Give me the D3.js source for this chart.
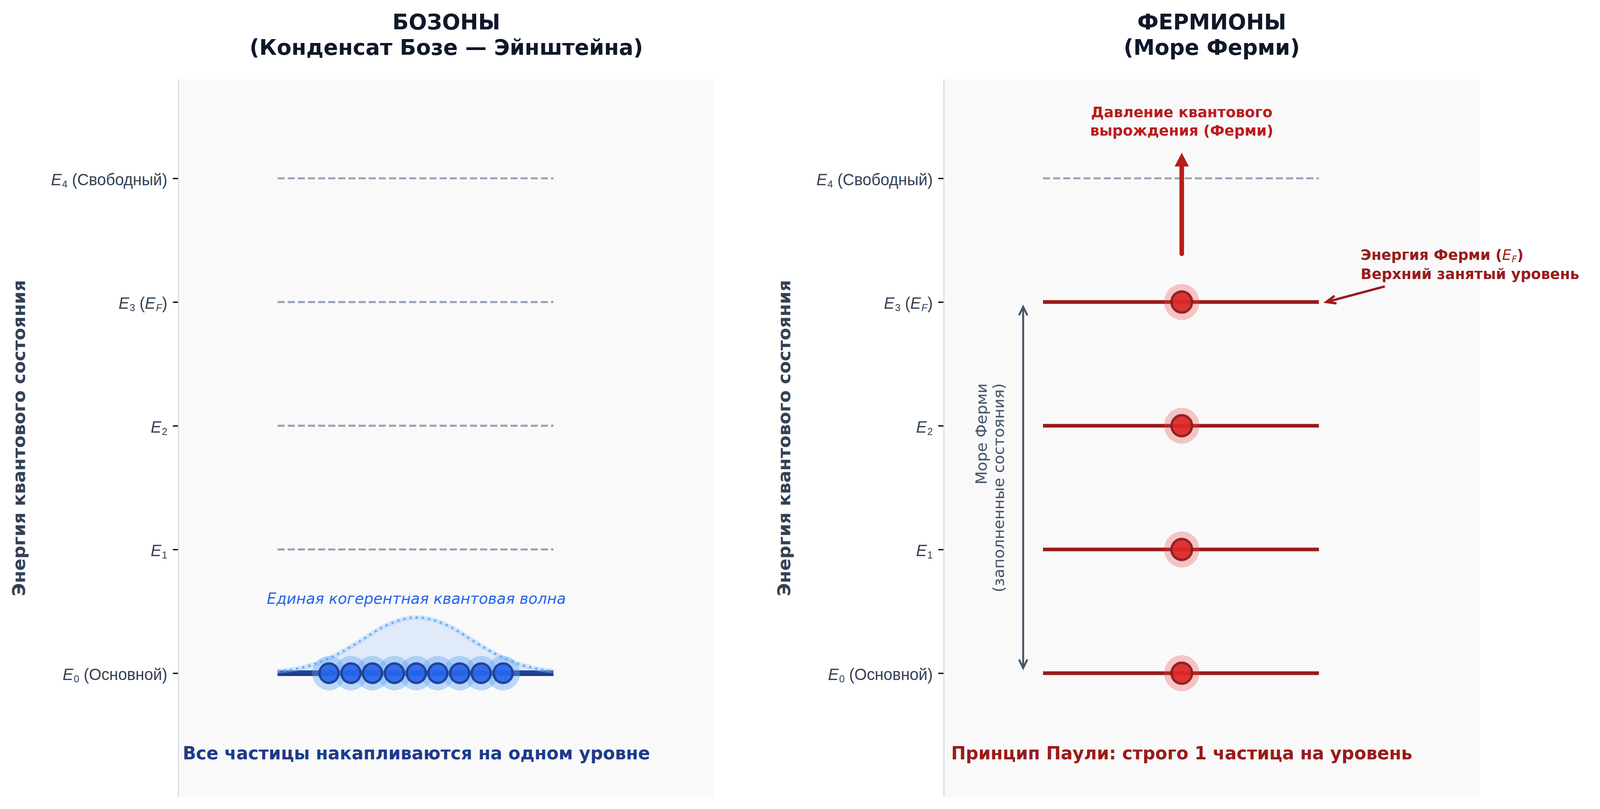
<!DOCTYPE html>
<html>
<head>
<meta charset="utf-8">
<script src="https://cdn.jsdelivr.net/npm/d3@7"></script>
<style>
	html, body { margin: 0; padding: 0; overflow: hidden; background: #ffffff; }
	svg { display: block; font-family: "DejaVu Sans", sans-serif; }
</style>
</head>
<body>
<svg id="chart"></svg>
<script>
// energy levels shared by both panels
const levels = [0, 1, 2, 3, 4];
const levelLabels = ["$E_0$ (Основной)", "$E_1$", "$E_2$", "$E_3$ ($E_F$)", "$E_4$ (Свободный)"];
const levelSpan = [1.85, 7.0];

// bosons: all in the ground state
const bosonEmptyLevels = [1, 2, 3, 4];
const bosonGroundLevel = 0;
const bosonX = [2.81, 3.22, 3.62, 4.03, 4.44, 4.84, 5.25, 5.65, 6.06];
const waveX = [1.85, 2.2, 2.6, 3.0, 3.4, 3.8, 4.2, 4.44, 4.7, 5.1, 5.5, 5.9, 6.3, 6.7, 7.0];
const waveY = [0.016, 0.035, 0.082, 0.160, 0.262, 0.370, 0.437, 0.450, 0.437, 0.370, 0.262, 0.160, 0.082, 0.035, 0.016];

// fermions: one per level
const fermionFilledLevels = [0, 1, 2, 3];
const fermionEmptyLevels = [4];
const fermionX = 4.44;

const panelTitles = [["БОЗОНЫ", "(Конденсат Бозе — Эйнштейна)"], ["ФЕРМИОНЫ", "(Море Ферми)"]];
const yAxisTitle = "Энергия квантового состояния";
const waveLabel = "Единая когерентная квантовая волна";
const footers = ["Все частицы накапливаются на одном уровне", "Принцип Паули: строго 1 частица на уровень"];
const seaLabel = ["Море Ферми", "(заполненные состояния)"];
const pressureLabel = ["Давление квантового", "вырождения (Ферми)"];
const fermiLabel = ["Энергия Ферми ($E_F$)", "Верхний занятый уровень"];

const W = 4187, H = 2070;
const panelLeft = [467, 2470];
const panelWidth = 1402;
const axTop = 203, axBottom = 2039;

// fit the drawing to whatever viewport we get
const svg = d3.select("#chart")
	.attr("viewBox", `0 0 ${W} ${H}`)
	.attr("preserveAspectRatio", "none")
	.style("width", "100vw")
	.style("height", "100vh");

svg.append("rect").attr("width", W).attr("height", H).attr("fill", "#ffffff");

const yScale = d3.scaleLinear()
	.domain([-1, 4.8])
	.range([axBottom, axTop]);

// tiny mathtext: $E_3$ -> italic E with subscript
function addMath(textSel, str, size, weight) {
	let shift = 0;
	let parts = str.split("$");
	parts.forEach((p, i) => {
		if (!p) return;
		if (i % 2 == 0) {
			textSel.append("tspan")
				.attr("font-weight", weight)
				.attr("dy", -shift)
				.text(p);
			shift = 0;
		} else {
			let m = p.match(/^([A-Za-z])_(\w)$/);
			textSel.append("tspan")
				.attr("font-style", "italic")
				.attr("font-weight", "normal")
				.attr("dy", -shift)
				.text(m[1]);
			let sub = size * 0.15;
			textSel.append("tspan")
				.attr("font-style", /\d/.test(m[2]) ? "normal" : "italic")
				.attr("font-weight", "normal")
				.attr("font-size", size * 0.62)
				.attr("dx", size * 0.03)
				.attr("dy", sub)
				.text(m[2]);
			shift = sub;
		}
	});
}

function openHead(g, tip, tail, len, half, color, width) {
	let dx = tail[0] - tip[0], dy = tail[1] - tip[1];
	let d = Math.hypot(dx, dy);
	let ux = dx / d, uy = dy / d;
	let nx = -uy, ny = ux;
	g.append("path")
		.attr("d", `M${tip[0] + ux * len + nx * half},${tip[1] + uy * len + ny * half}L${tip[0]},${tip[1]}L${tip[0] + ux * len - nx * half},${tip[1] + uy * len - ny * half}`)
		.attr("fill", "none")
		.attr("stroke", color)
		.attr("stroke-width", width)
		.attr("stroke-linejoin", "miter");
}

function drawAxes(idx) {
	let left = panelLeft[idx];
	let xScale = d3.scaleLinear()
		.domain([0, 10])
		.range([left, left + panelWidth]);

	let g = svg.append("g");

	g.append("rect")
		.attr("x", left)
		.attr("y", axTop)
		.attr("width", panelWidth)
		.attr("height", axBottom - axTop)
		.attr("fill", "#f9f9f9");

	let axis = g.append("g")
		.attr("transform", `translate(${left},0)`)
		.call(d3.axisLeft(yScale).tickValues(levels).tickSize(14.6).tickPadding(14.6).tickFormat(""));
	axis.select(".domain").remove();
	axis.selectAll(".tick line").attr("stroke", "#000000").attr("stroke-width", 3.3);
	axis.selectAll(".tick").each(function (d, i) {
		let t = d3.select(this).append("text")
			.attr("x", -29.2)
			.attr("y", 16.8)
			.attr("text-anchor", "end")
			.attr("fill", "#334155")
			.attr("font-size", 41.7);
		addMath(t, levelLabels[i], 41.7, "normal");
	});

	g.append("line")
		.attr("x1", left).attr("x2", left)
		.attr("y1", axTop).attr("y2", axBottom)
		.attr("stroke", "#cbd5e1")
		.attr("stroke-width", 2.5);

	g.append("text")
		.attr("transform", `translate(${65 + left - 467},${(axTop + axBottom) / 2}) rotate(-90)`)
		.attr("text-anchor", "middle")
		.attr("font-size", 45.8)
		.attr("font-weight", "bold")
		.attr("fill", "#334155")
		.text(yAxisTitle);

	let cx = left + panelWidth / 2;
	g.selectAll(".title")
		.data(panelTitles[idx])
		.join("text")
		.attr("class", "title")
		.attr("x", cx)
		.attr("y", (d, i) => 74.6 + i * 65.5)
		.attr("text-anchor", "middle")
		.attr("font-size", 56)
		.attr("font-weight", "bold")
		.attr("fill", "#0f172a")
		.text(d => d);

	return [g, xScale];
}

function dashedLevels(g, xScale, data) {
	g.selectAll(".empty")
		.data(data)
		.join("line")
		.attr("class", "empty")
		.attr("x1", xScale(levelSpan[0]))
		.attr("x2", xScale(levelSpan[1]))
		.attr("y1", d => yScale(d))
		.attr("y2", d => yScale(d))
		.attr("stroke", "#94a3b8")
		.attr("stroke-width", 5.2)
		.attr("stroke-dasharray", "18.5,8");
}

// ---------- bosons ----------
{
	let [g, xScale] = drawAxes(0);
	dashedLevels(g, xScale, bosonEmptyLevels);

	g.append("line")
		.attr("x1", xScale(levelSpan[0]))
		.attr("x2", xScale(levelSpan[1]))
		.attr("y1", yScale(bosonGroundLevel))
		.attr("y2", yScale(bosonGroundLevel))
		.attr("stroke", "#1e3a8a")
		.attr("stroke-width", 14.5);

	let wave = waveX.map((x, i) => [x, waveY[i]]);
	g.append("path")
		.datum(wave)
		.attr("d", d3.area()
			.x(d => xScale(d[0]))
			.y0(yScale(bosonGroundLevel))
			.y1(d => yScale(bosonGroundLevel + d[1]))
			.curve(d3.curveCatmullRom))
		.attr("fill", "#3b82f6")
		.attr("fill-opacity", 0.12);

	let waveLine = d3.line()
		.x(d => xScale(d[0]))
		.y(d => yScale(bosonGroundLevel + d[1]))
		.curve(d3.curveCatmullRom);

	g.append("path")
		.datum(wave)
		.attr("d", waveLine)
		.attr("fill", "none")
		.attr("stroke", "#93c5fd")
		.attr("stroke-opacity", 0.35)
		.attr("stroke-width", 12);

	g.append("path")
		.datum(wave)
		.attr("d", waveLine)
		.attr("fill", "none")
		.attr("stroke", "#60a5fa")
		.attr("stroke-opacity", 0.85)
		.attr("stroke-width", 6)
		.attr("stroke-dasharray", "6,10.3");

	g.selectAll(".halo")
		.data(bosonX)
		.join("circle")
		.attr("class", "halo")
		.attr("cx", d => xScale(d))
		.attr("cy", yScale(bosonGroundLevel))
		.attr("r", 44)
		.attr("fill", "#60a5fa")
		.attr("fill-opacity", 0.4);

	g.selectAll(".boson")
		.data(bosonX)
		.join("circle")
		.attr("class", "boson")
		.attr("cx", d => xScale(d))
		.attr("cy", yScale(bosonGroundLevel))
		.attr("r", 25)
		.attr("fill", "#2563eb")
		.attr("fill-opacity", 0.9)
		.attr("stroke", "#1e3a8a")
		.attr("stroke-opacity", 0.9)
		.attr("stroke-width", 6);

	g.append("text")
		.attr("x", xScale(4.44))
		.attr("y", yScale(0.6) + 12)
		.attr("text-anchor", "middle")
		.attr("font-size", 39)
		.attr("font-style", "italic")
		.attr("fill", "#2563eb")
		.text(waveLabel);

	g.append("text")
		.attr("x", xScale(4.44))
		.attr("y", yScale(-0.645) + 16.5)
		.attr("text-anchor", "middle")
		.attr("font-size", 45.8)
		.attr("font-weight", "bold")
		.attr("fill", "#1e3a8a")
		.text(footers[0]);
}

// ---------- fermions ----------
{
	let [g, xScale] = drawAxes(1);
	dashedLevels(g, xScale, fermionEmptyLevels);

	g.selectAll(".filled")
		.data(fermionFilledLevels)
		.join("line")
		.attr("class", "filled")
		.attr("x1", xScale(levelSpan[0]))
		.attr("x2", xScale(levelSpan[1]))
		.attr("y1", d => yScale(d))
		.attr("y2", d => yScale(d))
		.attr("stroke", "#991b1b")
		.attr("stroke-width", 9.4);

	g.selectAll(".halo")
		.data(fermionFilledLevels)
		.join("circle")
		.attr("class", "halo")
		.attr("cx", xScale(fermionX))
		.attr("cy", d => yScale(d))
		.attr("r", 46)
		.attr("fill", "#ef4444")
		.attr("fill-opacity", 0.3);

	g.selectAll(".fermion")
		.data(fermionFilledLevels)
		.join("circle")
		.attr("class", "fermion")
		.attr("cx", xScale(fermionX))
		.attr("cy", d => yScale(d))
		.attr("r", 27)
		.attr("fill", "#dc2626")
		.attr("fill-opacity", 0.92)
		.attr("stroke", "#7f1d1d")
		.attr("stroke-opacity", 0.9)
		.attr("stroke-width", 6);

	// Fermi sea double arrow
	let seaX = xScale(1.48);
	let seaBottom = yScale(0) - 13, seaTop = yScale(3) + 12;
	g.append("line")
		.attr("x1", seaX).attr("x2", seaX)
		.attr("y1", seaBottom).attr("y2", seaTop)
		.attr("stroke", "#475569")
		.attr("stroke-width", 5);
	openHead(g, [seaX, seaTop], [seaX, seaBottom], 22, 11, "#475569", 5);
	openHead(g, [seaX, seaBottom], [seaX, seaTop], 22, 11, "#475569", 5);

	g.selectAll(".sea")
		.data(seaLabel)
		.join("text")
		.attr("class", "sea")
		.attr("transform", (d, i) => `translate(${xScale(0.85) - 7 + i * 45},${yScale(3) + 208}) rotate(-90)`)
		.attr("text-anchor", "end")
		.attr("font-size", 39.5)
		.attr("fill", "#475569")
		.text(d => d);

	// degeneracy pressure arrow
	let px = xScale(fermionX);
	let pTip = yScale(4.20), pBase = yScale(3.39);
	g.append("line")
		.attr("x1", px).attr("x2", px)
		.attr("y1", pBase).attr("y2", pTip + 28)
		.attr("stroke", "#b91c1c")
		.attr("stroke-width", 12)
		.attr("stroke-linecap", "round");
	g.append("path")
		.attr("d", `M${px},${pTip}L${px + 17},${pTip + 32}L${px - 17},${pTip + 32}Z`)
		.attr("fill", "#b91c1c")
		.attr("stroke", "#b91c1c")
		.attr("stroke-width", 2);

	g.selectAll(".pressure")
		.data(pressureLabel)
		.join("text")
		.attr("class", "pressure")
		.attr("x", px)
		.attr("y", (d, i) => 300 + i * 47)
		.attr("text-anchor", "middle")
		.attr("font-size", 38)
		.attr("font-weight", "bold")
		.attr("fill", "#b91c1c")
		.text(d => d);

	// Fermi energy annotation
	let tip = [xScale(7.11) + 4, yScale(3.0)];
	let tail = [xScale(8.23), yScale(3.126)];
	g.append("line")
		.attr("x1", tail[0]).attr("y1", tail[1])
		.attr("x2", tip[0]).attr("y2", tip[1])
		.attr("stroke", "#991b1b")
		.attr("stroke-width", 6);
	openHead(g, tip, tail, 25, 10, "#991b1b", 6);

	fermiLabel.forEach((s, i) => {
		let t = g.append("text")
			.attr("x", xScale(7.78))
			.attr("y", 665.5 + i * 48.5)
			.attr("font-size", 38)
			.attr("font-weight", "bold")
			.attr("fill", "#991b1b");
		addMath(t, s, 38, "bold");
	});

	g.append("text")
		.attr("x", xScale(4.44))
		.attr("y", yScale(-0.645) + 16.5)
		.attr("text-anchor", "middle")
		.attr("font-size", 45.8)
		.attr("font-weight", "bold")
		.attr("fill", "#991b1b")
		.text(footers[1]);
}
</script>
</body>
</html>
